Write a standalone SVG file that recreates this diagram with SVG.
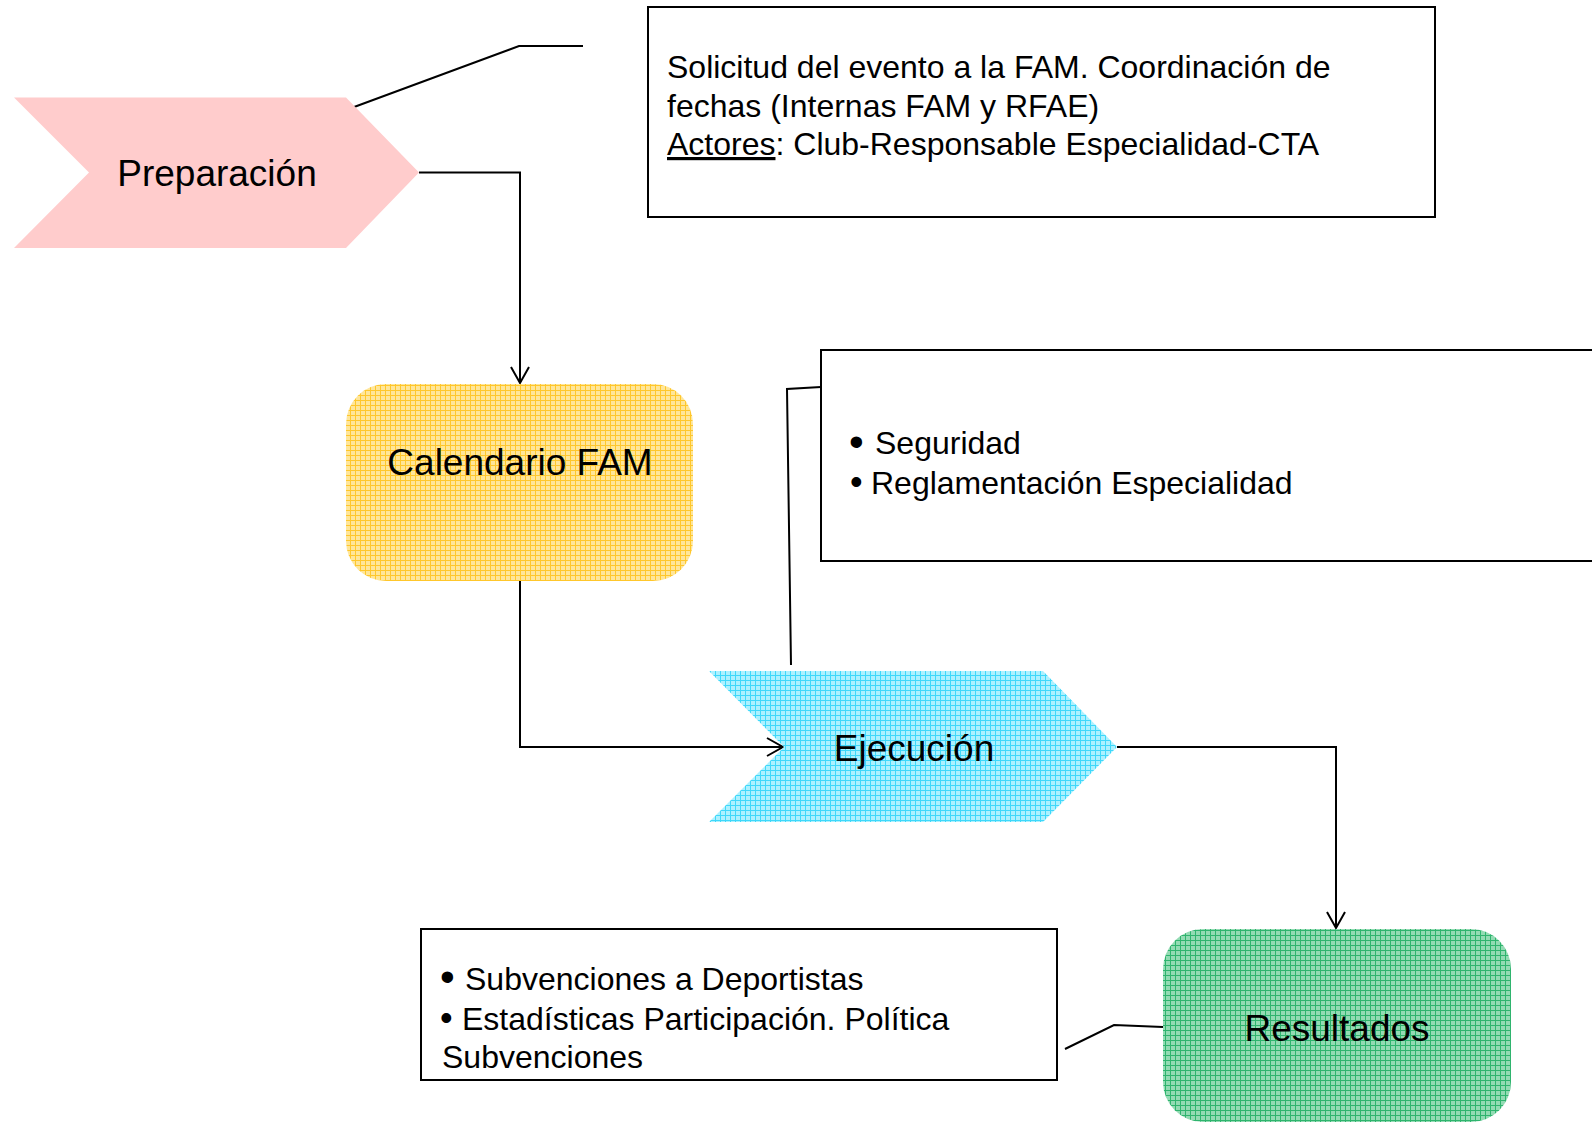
<svg xmlns="http://www.w3.org/2000/svg" width="1592" height="1123" viewBox="0 0 1592 1123">
<style>
text{font-family:"Liberation Sans",Arial,sans-serif;fill:#000}
.lbl{font-size:37px;text-anchor:middle}
.box{font-size:32px}
.b1{font-size:42px}
.b2{font-size:36px}
.frame{fill:#fff;stroke:#000;stroke-width:2}
.conn{fill:none;stroke:#000;stroke-width:2}
</style>
<defs>
<pattern id="pYel" width="5" height="5" patternUnits="userSpaceOnUse">
<rect width="5" height="5" fill="#FFE699"/>
<path d="M0 0.5H5M0.5 0V5" stroke="#FFC72C" stroke-width="1"/>
</pattern>
<pattern id="pCyan" width="5" height="5" patternUnits="userSpaceOnUse">
<rect width="5" height="5" fill="#ACF1FF"/>
<path d="M0 0.5H5M0.5 0V5" stroke="#3FD8FA" stroke-width="1"/>
</pattern>
<pattern id="pGreen" width="5" height="5" patternUnits="userSpaceOnUse">
<rect width="5" height="5" fill="#93DBB3"/>
<path d="M0 0.5H5M0.5 0V5" stroke="#2FB46E" stroke-width="1"/>
</pattern>
<marker id="arr" markerWidth="24" markerHeight="24" refX="18" refY="10" orient="auto" markerUnits="userSpaceOnUse">
<path d="M2 1L18 10L2 19" fill="none" stroke="#000" stroke-width="2"/>
</marker>
</defs>

<g id="connectors">
<polyline class="conn" points="419,172.6 520,172.6 520,383" marker-end="url(#arr)"/>
<polyline class="conn" points="520,581 520,747 783,747" marker-end="url(#arr)"/>
<polyline class="conn" points="1117,747 1336,747 1336,928" marker-end="url(#arr)"/>
<polyline class="conn" points="346,110 519,46 583,46"/>
<polyline class="conn" points="791,665 787,389 821,387"/>
<polyline class="conn" points="1065,1049 1114,1025 1163,1027"/>
</g>

<g id="preparacion">
<polygon points="14,97.5 346,97.5 419,172.6 346,248 14,248 89,172.6" fill="#FFCCCC"/>
<text class="lbl" x="217" y="186">Preparación</text>
</g>

<g id="calendario">
<rect x="346" y="384" width="347" height="197" rx="40" fill="url(#pYel)"/>
<text class="lbl" x="520" y="475">Calendario FAM</text>
</g>

<g id="ejecucion">
<polygon points="709,671 1043,671 1117,747 1043,822 709,822 784,747" fill="url(#pCyan)"/>
<text class="lbl" x="914" y="761">Ejecución</text>
</g>

<g id="resultados">
<rect x="1163" y="929" width="348" height="193" rx="40" fill="url(#pGreen)"/>
<text class="lbl" x="1337" y="1041">Resultados</text>
</g>

<g id="box-preparacion">
<rect class="frame" x="648" y="7" width="787" height="210"/>
<text class="box" x="667" y="78">Solicitud del evento a la FAM. Coordinación de</text>
<text class="box" x="667" y="117">fechas (Internas FAM y RFAE)</text>
<text class="box" x="667" y="155"><tspan text-decoration="underline">Actores</tspan>: Club-Responsable Especialidad-CTA</text>
</g>

<g id="box-ejecucion">
<rect class="frame" x="821" y="350" width="790" height="211"/>
<text class="box" x="849" y="454"><tspan class="b1" y="456">•</tspan><tspan x="875" y="454">Seguridad</tspan></text>
<text class="box" x="850" y="494"><tspan class="b2">•</tspan><tspan x="871">Reglamentación Especialidad</tspan></text>
</g>

<g id="box-resultados">
<rect class="frame" x="421" y="929" width="636" height="151"/>
<text class="box" x="440" y="990"><tspan class="b1" y="991">•</tspan><tspan x="465" y="990">Subvenciones a Deportistas</tspan></text>
<text class="box" x="440" y="1030"><tspan class="b2">•</tspan><tspan x="462">Estadísticas Participación. Política</tspan></text>
<text class="box" x="442" y="1068">Subvenciones</text>
</g>
</svg>
